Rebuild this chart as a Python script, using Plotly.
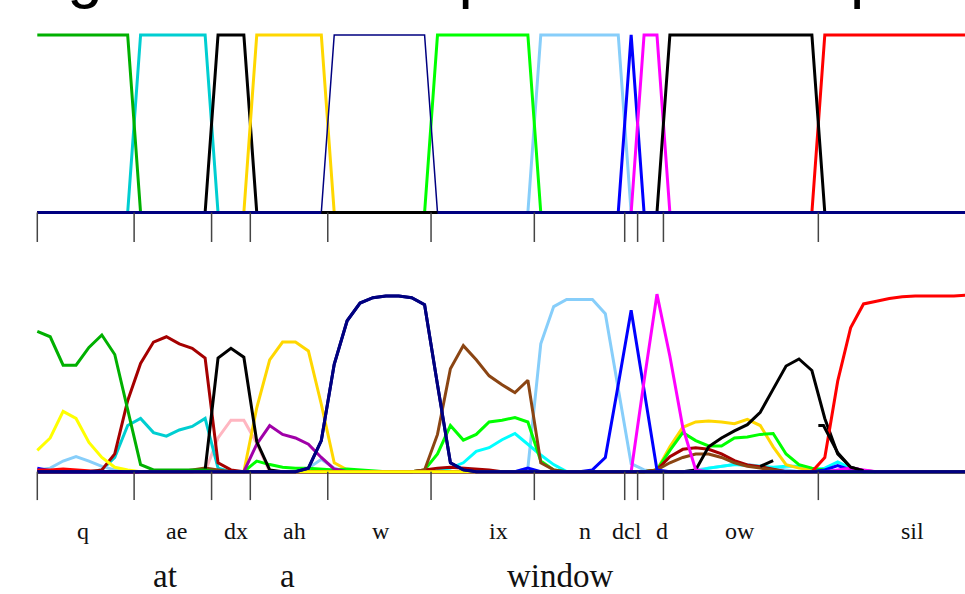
import plotly.graph_objects as go

N_FRAMES = 73
frames = list(range(N_FRAMES))

# ---- phone segmentation (frame indices) ----
phones = ["q", "ae", "dx", "ah", "w", "ix", "n", "dcl", "d", "ow", "sil"]
seg_start = [0, 8, 14, 17, 23, 31, 39, 46, 47, 49, 61]
seg_end = [7, 13, 16, 22, 30, 38, 45, 46, 48, 60, 72]
phone_colors = ["#00B000", "#00CED1", "#000000", "#FFD700", "#000080", "#00FF00",
                "#87CEFA", "#0000FF", "#FF00FF", "#000000", "#FF0000"]
boundaries = [0, 7.5, 13.5, 16.5, 22.5, 30.5, 38.5, 45.5, 46.5, 48.5, 60.5]
phone_label_x = [3.56, 10.77, 15.4, 19.9, 26.6, 35.7, 42.4, 45.7, 48.4, 54.4, 67.8]

words = ["at", "a", "window"]
word_label_x = [9.9, 19.4, 40.5]

title_text = "Alignment to outputs and true phone posteriors"

# ---- network outputs: (start frame, values) pieces, zero elsewhere ----
out_q = [(0, [0.79, 0.76, 0.60, 0.60, 0.70, 0.77, 0.66, 0.35, 0.04, 0.01, 0.01, 0.01, 0.01, 0.01])]
out_yellow = [(0, [0.12, 0.19, 0.34, 0.30, 0.165, 0.08, 0.025, 0.01]),
              (18, [0.004] * 19)]
out_lightblue = [(0, [0.01, 0.02, 0.06, 0.085, 0.06, 0.03, 0.01]),
                 (21, [0.02, 0.07, 0.02]),
                 (38, [0.02, 0.72, 0.93, 0.97, 0.97, 0.97, 0.89, 0.46, 0.045, 0.01]),
                 (51, [0.01, 0.02, 0.03, 0.04, 0.04, 0.03, 0.02, 0.01])]
out_darkred = [(5, [0.01, 0.10, 0.40, 0.61, 0.73, 0.76, 0.72, 0.695, 0.64, 0.05, 0.01]),
               (30, [0.01, 0.02, 0.025, 0.02, 0.015, 0.01]),
               (48, [0.01, 0.085, 0.126, 0.135, 0.126, 0.10, 0.062, 0.038, 0.028, 0.015])]
out_turq = [(5, [0.01, 0.08, 0.26, 0.30, 0.22, 0.20, 0.235, 0.255, 0.30, 0.02, 0.0])]
out_black_dx = [(13, [0.01, 0.64, 0.695, 0.645, 0.17, 0.01])]
out_black_ow = [(51, [0.01, 0.14, 0.19, 0.23, 0.265, 0.335, 0.465, 0.595, 0.635, 0.57,
                      0.30, 0.10, 0.025, 0.005])]
black2_x = [56, 57]
black2_y = [0.03, 0.062]
black3_x = [60.5, 60.9, 62, 63, 64]
black3_y = [0.26, 0.26, 0.107, 0.025, 0.005]
out_pink = [(13, [0.0, 0.19, 0.29, 0.29, 0.16, 0.0])]
out_gold = [(16, [0.0, 0.36, 0.63, 0.73, 0.73, 0.68, 0.38, 0.05, 0.01]),
            (48, [0.01, 0.14, 0.25, 0.28, 0.285, 0.28, 0.27, 0.295, 0.26, 0.14, 0.04, 0.02, 0.01])]
out_purple = [(16, [0.0, 0.155, 0.26, 0.21, 0.19, 0.155, 0.08, 0.015])]
out_lime = [(16, [0.0, 0.06, 0.04, 0.025, 0.02, 0.02, 0.015, 0.01, 0.015, 0.01, 0.005]),
            (30, [0.01, 0.10, 0.26, 0.178, 0.21, 0.28, 0.29, 0.305, 0.28, 0.06, 0.01]),
            (48, [0.01, 0.12, 0.22, 0.175, 0.145, 0.145, 0.19, 0.195, 0.21, 0.215, 0.10, 0.04, 0.02, 0.01])]
out_navy = [(20, [0.0, 0.02, 0.175, 0.605, 0.85, 0.95, 0.98, 0.99, 0.99, 0.98, 0.94, 0.49, 0.05, 0.01])]
out_brown = [(12, [0.01, 0.02, 0.01]),
             (30, [0.01, 0.21, 0.58, 0.71, 0.63, 0.54, 0.49, 0.445, 0.515, 0.05, 0.01]),
             (48, [0.01, 0.05, 0.08, 0.10, 0.10, 0.08, 0.05, 0.03, 0.02, 0.01])]
out_cyan = [(31, [0.01, 0.02, 0.05, 0.115, 0.135, 0.18, 0.215, 0.155, 0.094, 0.04, 0.0]),
            (52, [0.02, 0.03, 0.04, 0.035, 0.03, 0.025, 0.03, 0.03, 0.01, 0.02, 0.055, 0.02, 0.0])]
out_blue = [(0, [0.02, 0.005]), (37, [0.0, 0.02, 0.0]),
            (43, [0.01, 0.08, 0.49, 0.91, 0.46, 0.01]),
            (61, [0.01, 0.035, 0.01])]
out_magenta = [(46, [0.0, 0.51, 1.0, 0.65, 0.25, 0.01]), (62, [0.01, 0.02, 0.01])]
out_red = [(0, [0.01, 0.01, 0.015, 0.01, 0.005]),
           (59, [0.0, 0.0, 0.08, 0.51, 0.81, 0.945, 0.96, 0.975, 0.985, 0.99, 0.99, 0.99, 0.99, 0.995])]


def expand(pieces):
    arr = [0.0] * N_FRAMES
    for start, vals in pieces:
        for i, v in enumerate(vals):
            if start + i < N_FRAMES:
                arr[start + i] = v
    return arr


def target(k):
    return [1.0 if seg_start[k] <= t <= seg_end[k] else 0.0 for t in frames]


fig = go.Figure()

# ---------------- top panel: targets ----------------
top_order = [1, 0, 2, 3, 6, 5, 4, 7, 8, 10, 9]
for k in top_order:
    fig.add_trace(go.Scatter(x=frames, y=target(k), mode="lines", yaxis="y",
                             line=dict(color=phone_colors[k], width=1.5 if phones[k] == "w" else 3),
                             hoverinfo="skip"))
w_t = target(4)
base_top = [0.0 if (v == 0 and not (seg_start[4] <= t <= seg_end[4])) else None for t, v in zip(frames, w_t)]
fig.add_trace(go.Scatter(x=frames, y=base_top, mode="lines", yaxis="y",
                         line=dict(color="#000080", width=3), connectgaps=False, hoverinfo="skip"))

# ---------------- bottom panel: outputs ----------------
bottom = [
    (out_pink, "#FFB6C1"), (out_turq, "#00CED1"), (out_lightblue, "#87CEFA"),
    (out_cyan, "#00FFFF"), (out_gold, "#FFD700"), (out_lime, "#00FF00"),
    (out_purple, "#A000A8"), (out_darkred, "#A50000"), (out_brown, "#8B4513"),
    (out_black_dx, "#000000"), (out_black_ow, "#000000"), (out_blue, "#0000FF"),
    (out_magenta, "#FF00FF"), (out_q, "#00B000"), (out_red, "#FF0000"),
    (out_yellow, "#FFFF00"), (out_navy, "#000080"),
]
for pieces, col in bottom:
    fig.add_trace(go.Scatter(x=frames, y=expand(pieces), mode="lines", yaxis="y2",
                             line=dict(color=col, width=3), hoverinfo="skip"))
for bx, by in [(black2_x, black2_y), (black3_x, black3_y)]:
    fig.add_trace(go.Scatter(x=bx, y=by, mode="lines", yaxis="y2",
                             line=dict(color="#000000", width=3), hoverinfo="skip"))
# redraw navy on top for baseline
fig.add_trace(go.Scatter(x=frames, y=expand(out_navy), mode="lines", yaxis="y2",
                         line=dict(color="#000080", width=3), hoverinfo="skip"))

# ---------------- boundary ticks ----------------
shapes = []
for b in boundaries:
    shapes.append(dict(type="line", xref="x", yref="y", x0=b, x1=b, y0=0, y1=-0.166,
                       line=dict(color="#444444", width=1.5)))
    shapes.append(dict(type="line", xref="x", yref="y2", x0=b, x1=b, y0=0, y1=-0.16,
                       line=dict(color="#444444", width=1.5)))

annotations = []
for p, px in zip(phones, phone_label_x):
    annotations.append(dict(x=px, y=-0.334, xref="x", yref="y2", text=p, showarrow=False,
                            xanchor="center", yanchor="middle",
                            font=dict(family="Liberation Serif, Times New Roman, serif", size=24, color="#111111")))
for w, wx in zip(words, word_label_x):
    annotations.append(dict(x=wx, y=-0.588, xref="x", yref="y2", text=w, showarrow=False,
                            xanchor="center", yanchor="middle",
                            font=dict(family="Liberation Serif, Times New Roman, serif", size=33, color="#111111")))
annotations.append(dict(x=-6 / 965, y=1, xref="paper", yref="paper", text=title_text, showarrow=False,
                        xanchor="left", yanchor="bottom", yshift=-12,
                        font=dict(family="Liberation Sans, Arial, sans-serif", size=64, color="#000000")))

fig.update_layout(
    width=965, height=594,
    margin=dict(l=0, r=0, t=0, b=0),
    paper_bgcolor="white", plot_bgcolor="white",
    showlegend=False,
    xaxis=dict(range=[-2.889, 71.86], domain=[0, 1], visible=False),
    yaxis=dict(range=[-2.149, 1.197], domain=[0, 1], visible=False),
    yaxis2=dict(range=[-0.689, 2.657], overlaying="y", visible=False),
    shapes=shapes, annotations=annotations,
)

fig.write_html("out.html", config={"displayModeBar": False},
               post_script="document.body.style.margin='0';document.body.style.padding='0';"
                           "document.documentElement.style.overflow='hidden';")
